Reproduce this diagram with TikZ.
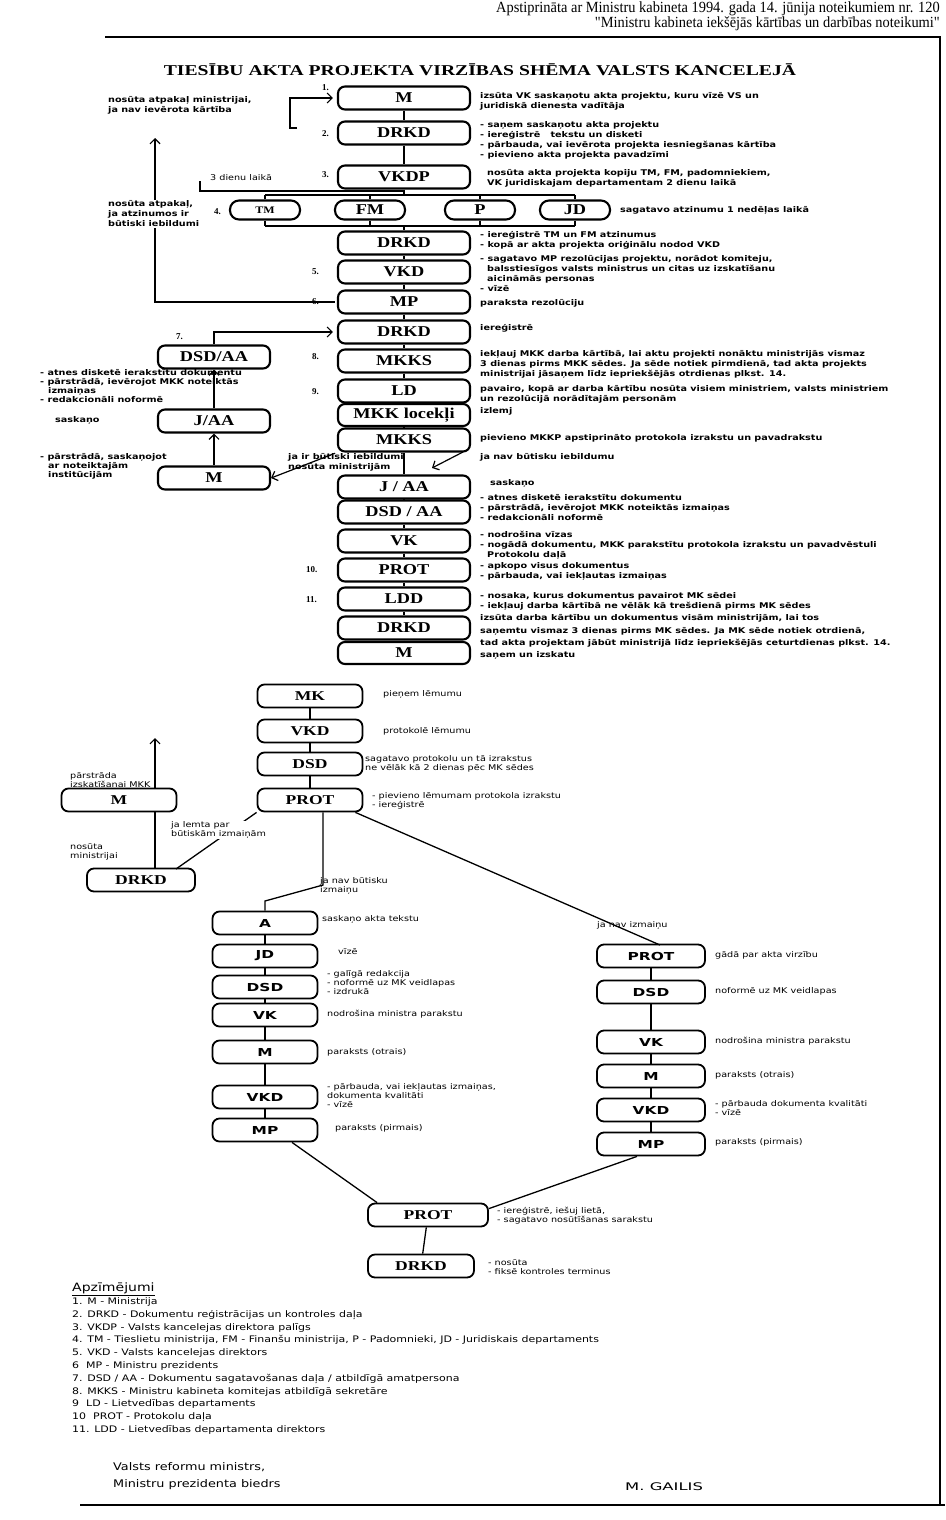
\documentclass[tikz,border=0pt]{standalone}
\usepackage{fontspec}
\usepackage{graphicx}
\setmainfont{Liberation Serif}
\newfontfamily\dvs{DejaVu Sans}
\newfontfamily\dvsw{DejaVu Sans}[FakeStretch=1.22]
\usetikzlibrary{arrows.meta}
\newcommand{\bxl}[1]{\scalebox{1.22}[1]{\fontsize{15}{15}\selectfont\bfseries #1}}
\newcommand{\lbs}[1]{\scalebox{1.3}[1]{\fontsize{13.5}{13.5}\selectfont\bfseries #1}}
\newcommand{\lbx}[1]{\scalebox{1.4}[1]{\dvs\fontsize{11}{11}\selectfont\bfseries #1}}
\newcommand{\tsf}{\dvsw\bfseries\fontsize{7.9}{10}\selectfont}
\newcommand{\lsf}{\dvsw\fontsize{7.9}{9}\selectfont}
\begin{document}
\begin{tikzpicture}[x=1pt,y=-1pt,
  box/.style={draw, line width=2.1pt, rounded corners=7pt, minimum height=23pt, inner sep=0pt},
  mbox/.style={box, minimum width=132pt},
  lbox/.style={box, line width=1.8pt, minimum width=105pt, minimum height=23pt},
  rowbox/.style={box, minimum width=70pt, minimum height=19pt, rounded corners=9pt},
  side/.style={anchor=west, inner sep=0pt, align=left, font=\tsf},
  lside/.style={anchor=west, inner sep=0pt, align=left, font=\lsf},
  num/.style={anchor=west, inner sep=0pt, font=\fontsize{9}{9}\selectfont\bfseries},
  conn/.style={line width=1.3pt},
  arr/.style={line width=1.2pt, -{Straight Barb[length=5pt, width=10pt, line width=1.2pt]}}]
\useasboundingbox (0,0) rectangle (945,1520);
% header
\node[anchor=north east, align=right, inner sep=0pt] (hdr) at (940,1.5)
  {\scalebox{0.93}[1]{\fontsize{15.5}{14}\selectfont Apstiprināta ar Ministru kabineta 1994. gada 14. jūnija noteikumiem nr. 120}\\
   \scalebox{0.93}[1]{\fontsize{15.5}{14}\selectfont \textquotedbl Ministru kabineta iekšējās kārtības un darbības noteikumi\textquotedbl}};
\draw[line width=1.5pt] (105,37) -- (940,37) -- (940,1505);
\draw[line width=1.5pt] (80,1505) -- (945,1505);
\node[inner sep=0pt] (title) at (480,70) {\scalebox{1.31}[1]{\fontsize{15}{15}\selectfont\bfseries TIESĪBU AKTA PROJEKTA VIRZĪBAS SHĒMA VALSTS KANCELEJĀ}};
% ===== top chart
\node[mbox] (m1) at (404,98) {\bxl{M}};
\node[mbox] (d1) at (404,133) {\bxl{DRKD}};
\node[mbox] (vkdp) at (404,177) {\bxl{VKDP}};
\node[rowbox] (tm) at (265,210) {\scalebox{1.2}[1]{\fontsize{10}{10}\selectfont\bfseries TM}};
\node[rowbox] (fm) at (370,210) {\bxl{FM}};
\node[rowbox] (p) at (480,210) {\bxl{P}};
\node[rowbox] (jd) at (575,210) {\bxl{JD}};
\node[mbox] (d2) at (404,243) {\bxl{DRKD}};
\node[mbox] (vkd1) at (404,272) {\bxl{VKD}};
\node[mbox] (mp1) at (404,302) {\bxl{MP}};
\node[mbox] (d3) at (404,332) {\bxl{DRKD}};
\node[mbox] (mkks1) at (404,361) {\bxl{MKKS}};
\node[mbox] (ld) at (404,391) {\bxl{LD}};
\node[mbox, minimum height=22pt] (mkkl) at (404,415) {\bxl{MKK locekļi}};
\node[mbox] (mkks2) at (404,440) {\bxl{MKKS}};
\node[mbox] (ja1) at (404,487) {\bxl{J / AA}};
\node[mbox] (dsd1) at (404,512) {\bxl{DSD / AA}};
\node[mbox] (vk1) at (404,541) {\bxl{VK}};
\node[mbox] (prot1) at (404,570) {\bxl{PROT}};
\node[mbox] (ldd) at (404,599) {\bxl{LDD}};
\node[mbox] (d4) at (404,628) {\bxl{DRKD}};
\node[mbox, minimum height=22pt] (m2) at (404,653) {\bxl{M}};
% left column
\node[box, minimum width=112pt] (dsdaa) at (214,357) {\bxl{DSD/AA}};
\node[box, minimum width=112pt] (jaa) at (214,421) {\bxl{J/AA}};
\node[box, minimum width=112pt] (lm1) at (214,478) {\bxl{M}};
% numbers
\node[num] (n1) at (322,88) {1.};
\node[num] (n2) at (322,134) {2.};
\node[num] (n3) at (322,175) {3.};
\node[num] (n4) at (214,212) {4.};
\node[num] (n5) at (312,272) {5.};
\node[num] (n6) at (312,302) {6.};
\node[num] (n7) at (176,337) {7.};
\node[num] (n8) at (312,357) {8.};
\node[num] (n9) at (312,392) {9.};
\node[num] (n10) at (306,570) {10.};
\node[num] (n11) at (306,600) {11.};
% connectors top chart
\coordinate (bt) at (404,195);
\coordinate (bb) at (404,226);
\coordinate (tj) at (404,191);
\draw[conn] (m1) -- (d1);
\draw[conn] (d1) -- (vkdp);
\draw[conn] (vkdp) -- (bt);
\draw[conn] (tm |- bt) -- (jd |- bt);
\draw[conn] (tm |- bb) -- (jd |- bb);
\foreach \b in {tm,fm,p,jd} {\draw[conn] (\b) -- (\b |- bt); \draw[conn] (\b) -- (\b |- bb);}
\draw[conn] (bb) -- (d2);
\draw[conn] (d2) -- (vkd1);
\draw[conn] (vkd1) -- (mp1);
\draw[conn] (mp1) -- (d3);
\draw[conn] (d3) -- (mkks1);
\draw[conn] (mkks1) -- (ld);
\draw[conn] (ld) -- (mkkl);
\draw[conn] (mkkl) -- (mkks2);
\draw[conn] (mkks2) -- (ja1);
\draw[conn] (ja1) -- (dsd1);
\draw[conn] (dsd1) -- (vk1);
\draw[conn] (vk1) -- (prot1);
\draw[conn] (prot1) -- (ldd);
\draw[conn] (ldd) -- (d4);
\draw[conn] (d4) -- (m2);
% bracket arrow back to M
\coordinate (brk0) at (297,128);
\coordinate (brk) at (290,128);
\draw[arr, shorten >=4pt] (brk0) -- (brk) |- (m1.west);
% 3 dienu laika line
\coordinate (tdl) at (200,181);
\draw[conn] (tdl) |- (tj);
% big return arrow
\coordinate (upA) at (155,138);
\draw[arr, shorten <=2pt] (mp1.west) -| (upA);
% left column arrows
\draw[arr, shorten >=4pt] (dsdaa.north) |- (d3.west);
\draw[arr] (jaa) -- (dsdaa);
\draw[arr] (lm1) -- (jaa);
\draw[arr, shorten <=2pt] (mkks2.south west) -- (lm1.east);
\coordinate (jn1) at (463,452);
\coordinate (jn2) at (432,468);
\draw[arr] (jn1) -- (jn2);
% texts top chart
\node[side] (t1) at (108,105) {nosūta atpakaļ ministrijai,\\ja nav ievērota kārtība};
\node[side, fill=white, inner sep=1pt] (t2) at (107,214) {nosūta atpakaļ,\\ja atzinumos ir\\būtiski iebildumi};
\node[side, font=\dvsw\fontsize{7.9}{10}\selectfont] (t3) at (210,178) {3 dienu laikā};
\node[side] (s1) at (480,101) {izsūta VK saskaņotu akta projektu, kuru vīzē VS un\\juridiskā dienesta vadītāja};
\node[side] (s2) at (480,140) {- saņem saskaņotu akta projektu\\- iereģistrē \ \ tekstu un disketi\\- pārbauda, vai ievērota projekta iesniegšanas kārtība\\- pievieno akta projekta pavadzīmi};
\node[side] (s3) at (487,178) {nosūta akta projekta kopiju TM, FM, padomniekiem,\\VK juridiskajam departamentam 2 dienu laikā};
\node[side] (s4) at (620,210) {sagatavo atzinumu 1 nedēļas laikā};
\node[side] (s5) at (480,240) {- iereģistrē TM un FM atzinumus\\- kopā ar akta projekta oriģinālu nodod VKD};
\node[side] (s6) at (480,274) {- sagatavo MP rezolūcijas projektu, norādot komiteju,\\\hspace*{7pt}balsstiesīgos valsts ministrus un citas uz izskatīšanu\\\hspace*{7pt}aicināmās personas\\- vīzē};
\node[side] (s7) at (480,303) {paraksta rezolūciju};
\node[side] (s8) at (480,328) {iereģistrē};
\node[side] (s9) at (480,364) {iekļauj MKK darba kārtībā, lai aktu projekti nonāktu ministrijās vismaz\\3 dienas pirms MKK sēdes. Ja sēde notiek pirmdienā, tad akta projekts\\ministrijai jāsaņem līdz iepriekšējās otrdienas plkst. 14.};
\node[side] (s10) at (480,394) {pavairo, kopā ar darba kārtību nosūta visiem ministriem, valsts ministriem\\un rezolūcijā norādītajām personām};
\node[side] (s11) at (480,411) {izlemj};
\node[side] (s12) at (480,438) {pievieno MKKP apstiprināto protokola izrakstu un pavadrakstu};
\node[side] (s13) at (480,457) {ja nav būtisku iebildumu};
\node[side] (s14) at (288,462) {ja ir būtiski iebildumi\\nosūta ministrijām};
\node[side] (s15) at (490,483) {saskaņo};
\node[side] (s16) at (480,508) {- atnes disketē ierakstītu dokumentu\\- pārstrādā, ievērojot MKK noteiktās izmaiņas\\- redakcionāli noformē};
\node[side] (s17) at (480,545) {- nodrošina vīzas\\- nogādā dokumentu, MKK parakstītu protokola izrakstu un pavadvēstuli\\\hspace*{7pt}Protokolu daļā};
\node[side] (s18) at (480,571) {- apkopo visus dokumentus\\- pārbauda, vai iekļautas izmaiņas};
\node[side] (s19) at (480,601) {- nosaka, kurus dokumentus pavairot MK sēdei\\- iekļauj darba kārtībā ne vēlāk kā trešdienā pirms MK sēdes};
\node[side, font=\dvsw\bfseries\fontsize{7.9}{12.5}\selectfont] (s20) at (480,631) {izsūta darba kārtību un dokumentus visām ministrijām, lai tos\\saņemtu vismaz 3 dienas pirms MK sēdes. Ja MK sēde notiek otrdienā,\\tad akta projektam jābūt ministrijā līdz iepriekšējās ceturtdienas plkst. 14.};
\node[side] (s21) at (480,655) {saņem un izskatu};
\node[side, font=\dvsw\bfseries\fontsize{7.9}{9}\selectfont] (l1) at (40,386) {- atnes disketē ierakstītu dokumentu\\- pārstrādā, ievērojot MKK noteiktās\\\hspace*{8pt}izmaiņas\\- redakcionāli noformē};
\node[side] (l2) at (55,420) {saskaņo};
\node[side, font=\dvsw\bfseries\fontsize{7.9}{9}\selectfont] (l3) at (40,466) {- pārstrādā, saskaņojot\\\hspace*{8pt}ar noteiktajām\\\hspace*{8pt}institūcijām};
% ===== lower chart
\node[lbox] (mk) at (310,696) {\lbs{MK}};
\node[lbox] (vkd2) at (310,731) {\lbs{VKD}};
\node[lbox] (dsd2) at (310,764) {\lbs{DSD}};
\node[lbox] (prot2) at (310,800) {\lbs{PROT}};
\node[lbox, minimum width=115pt] (lm2) at (119,800) {\lbs{M}};
\node[lbox, minimum width=108pt] (ld2) at (141,880) {\lbs{DRKD}};
\node[lbox] (a) at (265,923) {\lbx{A}};
\node[lbox] (jd2) at (265,956) {\lbx{JD}};
\node[lbox] (dsd3) at (265,987) {\lbx{DSD}};
\node[lbox] (vk2) at (265,1015) {\lbx{VK}};
\node[lbox] (m3) at (265,1052) {\lbx{M}};
\node[lbox] (vkd3) at (265,1097) {\lbx{VKD}};
\node[lbox] (mp2) at (265,1130) {\lbx{MP}};
\node[lbox, minimum width=108pt] (rprot) at (651,956) {\lbx{PROT}};
\node[lbox, minimum width=108pt] (rdsd) at (651,992) {\lbx{DSD}};
\node[lbox, minimum width=108pt] (rvk) at (651,1042) {\lbx{VK}};
\node[lbox, minimum width=108pt] (rm) at (651,1076) {\lbx{M}};
\node[lbox, minimum width=108pt] (rvkd) at (651,1110) {\lbx{VKD}};
\node[lbox, minimum width=108pt] (rmp) at (651,1144) {\lbx{MP}};
\node[lbox, minimum width=120pt] (fprot) at (428,1215) {\lbs{PROT}};
\node[lbox, minimum width=106pt] (fdrkd) at (421,1266) {\lbs{DRKD}};
% lower connectors
\draw[conn] (mk) -- (vkd2);
\draw[conn] (vkd2) -- (dsd2);
\draw[conn] (dsd2) -- (prot2);
\coordinate (upB) at (155,738);
\draw[arr] (lm2.north -| upB) -- (upB);
\draw[conn] (ld2.north -| upB) -- (lm2.south -| upB);
\coordinate (lj) at (176,869);
\draw[conn] (prot2.south west) -- (lj);
\coordinate (mb1) at (323,885);
\coordinate (mb2) at (265,901);
\draw[conn] (prot2.south -| mb1) -- (mb1) -- (mb2) -- (a);
\coordinate (rj) at (660,945);
\draw[conn] ([xshift=-8pt]prot2.south east) -- (rj);
\draw[conn] (a) -- (jd2);
\draw[conn] (jd2) -- (dsd3);
\draw[conn] (dsd3) -- (vk2);
\draw[conn] (vk2) -- (m3);
\draw[conn] (m3) -- (vkd3);
\draw[conn] (vkd3) -- (mp2);
\draw[conn] (rprot) -- (rdsd);
\draw[conn] (rdsd) -- (rvk);
\draw[conn] (rvk) -- (rm);
\draw[conn] (rm) -- (rvkd);
\draw[conn] (rvkd) -- (rmp);
\draw[conn] ([xshift=27pt]mp2.south) -- ([xshift=10pt]fprot.north west);
\draw[conn] ([xshift=-14pt]rmp.south) -- ([yshift=-6pt]fprot.north east);
\draw[conn] (fprot) -- (fdrkd);
% lower texts
\node[lside] (u1) at (383,694) {pieņem lēmumu};
\node[lside] (u2) at (383,731) {protokolē lēmumu};
\node[lside] (u3) at (365,764) {sagatavo protokolu un tā izrakstus\\ne vēlāk kā 2 dienas pēc MK sēdes};
\node[lside] (u4) at (372,801) {- pievieno lēmumam protokola izrakstu\\- iereģistrē};
\node[lside] (u5) at (70,780) {pārstrāda\\izskatīšanai MKK};
\node[lside] (u6) at (70,852) {nosūta\\ministrijai};
\node[lside, fill=white, inner sep=1pt] (u7) at (170,830) {ja lemta par\\būtiskām izmaiņām};
\node[lside] (u8) at (320,886) {ja nav būtisku\\izmaiņu};
\node[lside] (u9) at (597,925) {ja nav izmaiņu};
\node[lside] (u10) at (322,919) {saskaņo akta tekstu};
\node[lside] (u11) at (338,952) {vīzē};
\node[lside] (u12) at (327,983) {- galīgā redakcija\\- noformē uz MK veidlapas\\- izdrukā};
\node[lside] (u13) at (327,1014) {nodrošina ministra parakstu};
\node[lside] (u14) at (327,1052) {paraksts (otrais)};
\node[lside] (u15) at (327,1096) {- pārbauda, vai iekļautas izmaiņas,\\dokumenta kvalitāti\\- vīzē};
\node[lside] (u16) at (335,1128) {paraksts (pirmais)};
\node[lside] (u17) at (715,955) {gādā par akta virzību};
\node[lside] (u18) at (715,991) {noformē uz MK veidlapas};
\node[lside] (u19) at (715,1041) {nodrošina ministra parakstu};
\node[lside] (u20) at (715,1075) {paraksts (otrais)};
\node[lside] (u21) at (715,1108) {- pārbauda dokumenta kvalitāti\\- vīzē};
\node[lside] (u22) at (715,1142) {paraksts (pirmais)};
\node[lside] (u23) at (497,1216) {- iereģistrē, iešuj lietā,\\- sagatavo nosūtīšanas sarakstu};
\node[lside] (u24) at (488,1267) {- nosūta\\- fiksē kontroles terminus};
% legend
\node[anchor=west, inner sep=0pt, font=\dvsw\fontsize{11.5}{12}\selectfont] (lgT) at (72,1289) {\underline{Apzīmējumi}};
\node[anchor=west, inner sep=0pt, align=left, font=\dvsw\fontsize{9}{12.8}\selectfont] (lg) at (72,1366)
 {1. M - Ministrija\\
  2. DRKD - Dokumentu reģistrācijas un kontroles daļa\\
  3. VKDP - Valsts kancelejas direktora palīgs\\
  4. TM - Tieslietu ministrija, FM - Finanšu ministrija, P - Padomnieki, JD - Juridiskais departaments\\
  5. VKD - Valsts kancelejas direktors\\
  6 \ MP - Ministru prezidents\\
  7. DSD / AA - Dokumentu sagatavošanas daļa / atbildīgā amatpersona\\
  8. MKKS - Ministru kabineta komitejas atbildīgā sekretāre\\
  9 \ LD - Lietvedības departaments\\
  10 \ PROT - Protokolu daļa\\
  11. LDD - Lietvedības departamenta direktors};
% signature
\node[anchor=west, inner sep=0pt, align=left, font=\dvsw\fontsize{10.5}{17}\selectfont] (sig) at (113,1476) {Valsts reformu ministrs,\\Ministru prezidenta biedrs};
\node[anchor=west, inner sep=0pt] (gai) at (625,1487) {\scalebox{1.28}[1]{\dvsw\fontsize{10.5}{12}\selectfont M. GAILIS}};
\end{tikzpicture}
\end{document}
